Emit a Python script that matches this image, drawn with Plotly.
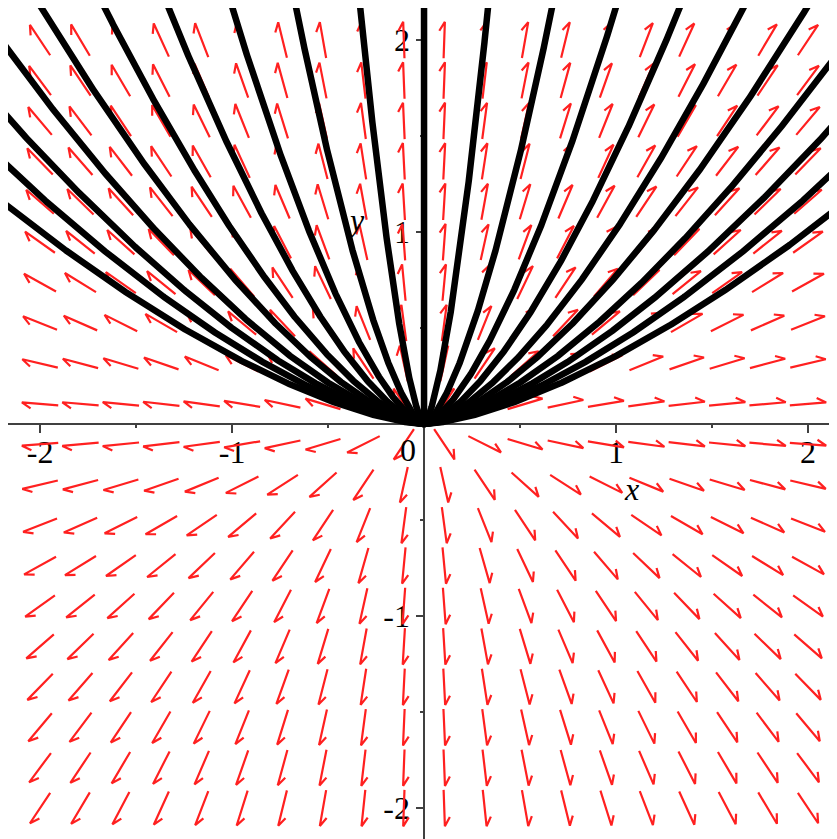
import numpy as np
import plotly.graph_objects as go

# Direction field of the system dx/dt = coef_x * x, dy/dt = coef_y * y
coef_x = 2.0
coef_y = 3.0
grid_x = np.linspace(-2, 2, 20)
grid_y = np.linspace(-2, 2, 20)

# Solution curves y = k * |x|^power, drawn on both sides of the y-axis
curve_k = [11.26, 3.98, 2.17, 1.41, 1.01, 0.77, 0.61, 0.50, 0.42, 0.355]
curve_power = 1.5

x_range = [-2.167, 2.151]
y_range = [-2.161, 2.167]

x_tick_vals = [-2, -1, 1, 2]
x_tick_text = ["-2", "-1", "1", "2"]
y_tick_vals = [-2, -1, 1, 2]
y_tick_text = ["-2", "-1", "1", "2"]
minor_vals = [-1.5, -0.5, 0.5, 1.5]

arrow_half = 0.095
barb_len = 0.055
barb_ang = np.deg2rad(30)

ax, ay = [], []
for xv in grid_x:
    for yv in grid_y:
        vx, vy = coef_x * xv, coef_y * yv
        n = np.hypot(vx, vy)
        if n == 0:
            continue
        ux, uy = vx / n, vy / n
        tx, ty = xv - arrow_half * ux, yv - arrow_half * uy
        hx, hy = xv + arrow_half * ux, yv + arrow_half * uy
        bx, by = -ux, -uy
        rx = bx * np.cos(barb_ang) + by * np.sin(barb_ang)
        ry = -bx * np.sin(barb_ang) + by * np.cos(barb_ang)
        ax += [tx, hx, hx + barb_len * rx, None]
        ay += [ty, hy, hy + barb_len * ry, None]

fig = go.Figure()
fig.add_trace(go.Scatter(x=ax, y=ay, mode="lines",
                         line=dict(color="#ff2020", width=2.2),
                         hoverinfo="skip", showlegend=False))

for k in curve_k:
    xmax = (2.4 / k) ** (1.0 / curve_power)
    xs = np.linspace(0, xmax, 500)
    ys = k * xs ** curve_power
    for sgn in (1, -1):
        fig.add_trace(go.Scatter(x=sgn * xs, y=ys, mode="lines",
                                 line=dict(color="black", width=6.5),
                                 hoverinfo="skip", showlegend=False))
# limiting curve x = 0 (upper half)
fig.add_trace(go.Scatter(x=[0, 0], y=[0, 2.4], mode="lines",
                         line=dict(color="black", width=6.5),
                         hoverinfo="skip", showlegend=False))

serif = "Liberation Serif"
fsize = 32
axis_color = "#404040"
xpos = (0 - y_range[0]) / (y_range[1] - y_range[0])
ypos = (0 - x_range[0]) / (x_range[1] - x_range[0])

fig.update_layout(
    width=829, height=831,
    margin=dict(l=0, r=0, t=0, b=0, autoexpand=False),
    paper_bgcolor="white", plot_bgcolor="white",
    font=dict(family=serif, size=fsize, color="black"),
    xaxis=dict(range=x_range, anchor="free", position=xpos,
               showgrid=False, zeroline=False, showline=True,
               linecolor=axis_color, linewidth=1.5,
               tickmode="array", tickvals=x_tick_vals, ticktext=x_tick_text,
               ticks="outside", ticklen=8, tickwidth=1.5, tickcolor=axis_color,
               ticklabelstandoff=-8,
               tickfont=dict(family=serif, size=fsize, color="black"),
               minor=dict(tickmode="array", tickvals=minor_vals, ticks="outside",
                          ticklen=3, tickwidth=1.5, tickcolor=axis_color),
               layer="below traces", fixedrange=True),
    yaxis=dict(range=y_range, anchor="free", position=ypos,
               showgrid=False, zeroline=False, showline=True,
               linecolor=axis_color, linewidth=1.5,
               tickmode="array", tickvals=y_tick_vals, ticktext=y_tick_text,
               ticks="outside", ticklen=7, tickwidth=1.5, tickcolor=axis_color,
               ticklabelstandoff=0,
               tickfont=dict(family=serif, size=fsize, color="black"),
               minor=dict(tickmode="array", tickvals=minor_vals, ticks="outside",
                          ticklen=3, tickwidth=1.5, tickcolor=axis_color),
               layer="below traces", fixedrange=True),
    annotations=[
        dict(x=1.078, y=-0.339, text="<i>x</i>", showarrow=False,
             font=dict(family=serif, size=fsize), xref="x", yref="y"),
        dict(x=-0.354, y=1.0625, text="<i>y</i>", showarrow=False,
             font=dict(family=serif, size=fsize), xref="x", yref="y"),
        dict(x=-0.083, y=-0.135, text="0", showarrow=False,
             font=dict(family=serif, size=fsize), xref="x", yref="y"),
    ],
)

fig.write_html("out.html")
